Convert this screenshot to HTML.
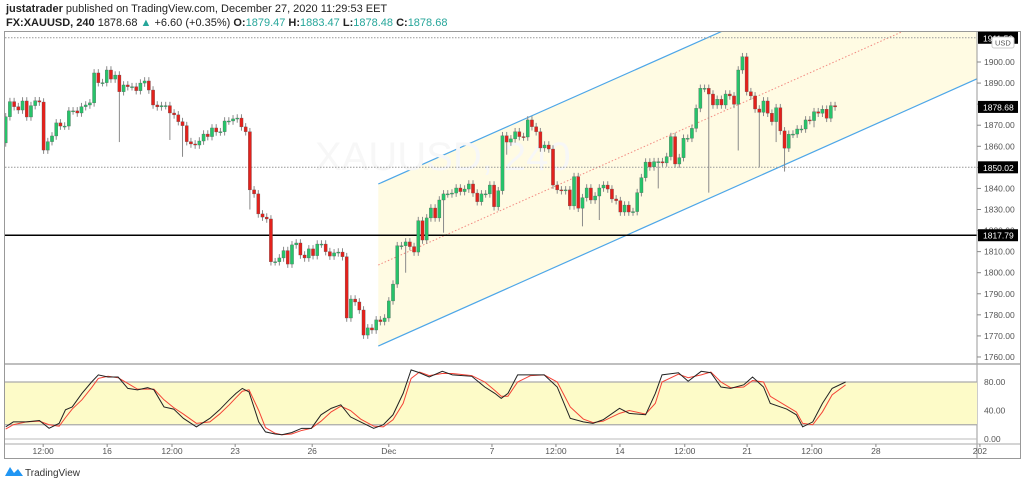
<!DOCTYPE html>
<html><head><meta charset="utf-8">
<style>
html,body{margin:0;padding:0;background:#fff;width:1024px;height:485px;overflow:hidden;font-family:"Liberation Sans",sans-serif}
#hdr{position:absolute;left:6px;top:2px;font-size:11px;color:#222;line-height:14px}
#hdr b{font-weight:bold}
.t{color:#26a69a}
svg{position:absolute;left:0;top:0}
</style></head><body>
<div id="hdr">
<div><b>justatrader</b> published on TradingView.com, December 27, 2020 11:29:53 EET</div>
<div><b>FX:XAUUSD, 240</b> 1878.68 <span class="t">▲</span> +6.60 (+0.35%) <b>O:</b><span class="t">1879.47</span> <b>H:</b><span class="t">1883.47</span> <b>L:</b><span class="t">1878.48</span> <b>C:</b><span class="t">1878.68</span></div>
</div>
<svg id="c" width="1024" height="485"></svg>
<script>
const closes=[1874.0,1881.2,1878.8,1877.2,1881.5,1873.9,1879.3,1881.6,1881.0,1858.2,1862.2,1864.9,1871.1,1869.6,1869.6,1876.8,1876.8,1875.8,1878.8,1879.6,1880.6,1894.8,1890.2,1890.2,1896.2,1891.9,1893.8,1885.9,1889.1,1888.3,1888.3,1886.4,1890.0,1891.0,1886.7,1879.6,1878.7,1879.3,1879.3,1875.8,1874.9,1871.7,1869.8,1862.2,1861.1,1860.6,1862.5,1865.8,1864.6,1868.7,1866.8,1866.9,1872.0,1872.0,1873.0,1873.4,1869.2,1866.9,1839.3,1837.4,1827.9,1826.4,1825.5,1805.2,1805.2,1807.0,1810.5,1804.1,1813.2,1814.1,1808.4,1807.0,1811.3,1808.1,1813.6,1813.6,1810.0,1807.9,1809.4,1809.8,1807.6,1778.5,1787.5,1786.1,1782.3,1770.4,1773.8,1772.8,1777.6,
1776.8,1778.5,1786.6,1794.6,1812.8,1812.8,1814.6,1812.4,1809.8,1824.7,1815.5,1826.0,1830.7,1826.0,1834.5,1837.4,1837.4,1837.8,1840.2,1838.5,1839.7,1842.1,1837.8,1833.7,1837.4,1837.4,1841.6,1831.3,1838.9,1865.0,1862.0,1863.5,1866.9,1864.6,1864.4,1872.5,1869.3,1866.9,1859.2,1860.6,1858.7,1841.6,1839.3,1838.9,1839.3,1831.7,1845.6,1830.6,1835.6,1840.2,1834.5,1836.4,1840.2,1841.6,1839.7,1835.0,1834.2,1828.8,1832.1,1828.8,1829.0,1838.0,1845.1,1852.5,1850.2,1852.7,1852.7,1852.1,
1855.1,1864.6,1851.6,1854.6,1863.8,1863.8,1868.5,1878.0,1887.5,1887.5,1884.8,1879.6,1882.3,1879.6,1884.8,1883.9,1879.9,1896.2,1902.5,1885.9,1883.9,1877.7,1876.1,1881.5,1875.7,1871.7,1878.3,1867.3,1859.1,1865.7,1865.8,1868.2,1868.2,1872.5,1872.2,1876.4,1875.7,1877.6,1873.3,1879.3,1878.68];
const firstOpen=1861.6;
const longWickIdx=[27,39,42,58,95,104,119,137,141,155,167,174,179,183,185,192];
const longWickLow=[1862,1863,1855,1830,1800,1819,1856,1822,1825,1840,1838,1858,1850,1862,1848,1869];
const stochIdx=[0,1.8,4.9,8,10.3,12.7,14.2,15.8,18.1,20.4,22,24.3,26.7,29,31.3,33.7,35.2,37.6,39.9,42.2,45.3,48.5,50.8,53.1,54.7,56.2,57.8,60.1,61.7,64,65.6,67.9,70.3,72.6,74.9,77.3,79.6,81.9,84.3,87.4,89.7,92,94.4,96.3,98.3,100.6,103.7,106.1,110.7,113.8,116.2,117.7,119.3,121.6,124.7,127.9,131,134.1,137.2,139.5,141.9,145.8,148.1,152,154.3,155.9,159.8,162.1,165.2,167.5,169.9,172.2,175.3,177.4,180,181.6,185.5,187.8,189.3,191.7,194,196.3,199.5];
const stochK=[17,24,24,26,15,22,41,45,64,80,90,87,87,71,69,72,69,45,42,29,17,29,41,55,64,71,66,24,10,7,6,9,15,15,34,43,48,31,24,15,20,34,64,97,93,87,95,90,88,73,64,57,64,90,90,90,73,29,24,22,27,43,36,34,64,90,93,81,95,93,73,71,76,87,73,50,42,34,17,24,50,71,80];
const stochD=[14,20,24,25,20,18,30,42,55,72,85,88,86,78,70,70,70,55,44,35,22,24,35,48,58,67,69,40,16,8,6,7,12,15,25,38,46,40,28,18,17,27,50,85,94,89,92,92,89,80,68,60,60,80,89,90,80,45,28,23,25,36,40,35,50,80,91,86,90,94,80,72,73,82,80,60,46,38,22,20,38,62,76];
const priceTicks=[1900,1890,1880,1870,1860,1850,1840,1830,1820,1810,1800,1790,1780,1770,1760];
const timeLabels=["12:00","16","12:00","23","26","Dec","7","12:00","14","12:00","21","12:00","28","202"];
const timeIdx=[8.9,24.1,39.5,54.5,72.8,91,115.5,130.7,145.9,161.3,176.1,191.5,206.7,231.4];
const hLines=[{p:1850.02,kind:"dotted"},{p:1817.79,kind:"solid"},{p:1911.5,kind:"dotted"}];
const channelIdx=[88.5,169.7];
const channelUpper=[1842.1,1914.2];
const channelLower=[1765.2,1837.6];

const NS="http://www.w3.org/2000/svg";
const svg=document.getElementById('c');
const X0=5.7,DX=4.21,PL=5,PR=977,PT=32,PB=362;
const xi=i=>X0+i*DX;
const yp=p=>62+(1900-p)*2.107;
const ys=v=>439-v*0.7125;
function el(tag,a,parent){const e=document.createElementNS(NS,tag);for(const k in a)e.setAttribute(k,a[k]);(parent||svg).appendChild(e);return e;}
const defs=el('defs',{});
const cp=el('clipPath',{id:'mainclip'},defs);el('rect',{x:PL,y:PT,width:PR-PL,height:PB-PT},cp);
const main=el('g',{'clip-path':'url(#mainclip)'});


const slopeU=(yp(channelUpper[1])-yp(channelUpper[0]))/(xi(channelIdx[1])-xi(channelIdx[0]));
const slopeL=(yp(channelLower[1])-yp(channelLower[0]))/(xi(channelIdx[1])-xi(channelIdx[0]));
const cx0=xi(channelIdx[0]),uy0=yp(channelUpper[0]),ly0=yp(channelLower[0]);
const uAt=x=>uy0+slopeU*(x-cx0),lAt=x=>ly0+slopeL*(x-cx0);
const fill=el('polygon',{points:`${cx0},${uy0} ${PR},${uAt(PR)} ${PR},${lAt(PR)} ${cx0},${ly0}`,fill:'#fffbe3'},main);


const mid=el('line',{x1:cx0,y1:(uy0+ly0)/2,x2:PR,y2:(uAt(PR)+lAt(PR))/2,stroke:'#f28b82','stroke-width':1,'stroke-dasharray':'1.5,2'},main);


const up=el('line',{x1:cx0,y1:uy0,x2:PR,y2:uAt(PR),stroke:'#4da6e8','stroke-width':1.2},main);


const lo=el('line',{x1:cx0,y1:ly0,x2:PR,y2:lAt(PR),stroke:'#4da6e8','stroke-width':1.2},main);


const wm=el('text',{x:315,y:170,'font-size':40,fill:'#f7f7f7','font-family':'Liberation Sans'},main);wm.textContent='XAUUSD, 240';


hLines.forEach(h=>{const l=el('line',{x1:PL,x2:PR,y1:yp(h.p),y2:yp(h.p),stroke:h.kind==='solid'?'#000':'#999','stroke-width':h.kind==='solid'?1.5:1,'stroke-dasharray':h.kind==='solid'?'none':'1.5,1.5'},main);

});
let prev=firstOpen;
closes.forEach((c,i)=>{const o=prev;prev=c;const x=xi(i);
 let hi=Math.max(o,c)+1.8,lw=Math.min(o,c)-1.8;const k=longWickIdx.indexOf(i);if(k>=0)lw=Math.min(lw,longWickLow[k]);
 const g=el('g',{},main);
 
 
 el('line',{x1:x,x2:x,y1:yp(hi),y2:yp(lw),stroke:'#8a8a8a','stroke-width':1},g);
 const top=yp(Math.max(o,c)),h=Math.max(1,yp(Math.min(o,c))-top);
 el('rect',{x:x-1.6,y:top,width:3.2,height:h,fill:c>=o?'#27c36a':'#e3211c',stroke:'#555','stroke-width':0.3},g);
});
const fr=el('rect',{x:4.5,y:31.5,width:1016,height:427,fill:'none',stroke:'#999','stroke-width':1});

el('line',{x1:PR,x2:PR,y1:32,y2:458,stroke:'#999'});
el('line',{x1:5,x2:1020,y1:364,y2:364,stroke:'#aaa','stroke-width':1.5});
el('line',{x1:5,x2:1020,y1:444,y2:444,stroke:'#aaa'});
priceTicks.forEach(p=>{const y=yp(p);el('line',{x1:PR,x2:PR+4,y1:y,y2:y,stroke:'#888'});
 const t=el('text',{x:984,y:y+3,'font-size':8.5,fill:'#555'});t.textContent=p.toFixed(2);
 });
const tags=[[1911.5,'1911.50'],[1878.68,'1878.68'],[1850.02,'1850.02'],[1817.79,'1817.79']];
tags.forEach(([p,s])=>{const y=yp(p);const g=el('g',{});
 
 el('rect',{x:978,y:y-6,width:40,height:12,fill:'#000'},g);
 const t=el('text',{x:983,y:y+3.5,'font-size':8.5,fill:'#fff'},g);t.textContent=s;});
const ub=el('rect',{x:992,y:37,width:22,height:11,rx:2,fill:'#fff',stroke:'#ccc'});

const ut=el('text',{x:995,y:45.5,'font-size':7.5,fill:'#555'});ut.textContent='USD';
const band=el('rect',{x:PL,y:ys(80),width:PR-PL,height:ys(20)-ys(80),fill:'#fdfbc8'});

[80,20].forEach(v=>el('line',{x1:PL,x2:PR,y1:ys(v),y2:ys(v),stroke:'#aaa','stroke-width':1.2}));
el('line',{x1:PL,x2:PR,y1:ys(0),y2:ys(0),stroke:'#bbb'});
[[80,'80.00'],[40,'40.00'],[0,'0.00']].forEach(([v,s])=>{const t=el('text',{x:984,y:ys(v)+3,'font-size':8.5,fill:'#555'});t.textContent=s;
 });
const pts=a=>a.map((v,i)=>`${xi(stochIdx[i])},${ys(v)}`).join(' ');
const dl=el('polyline',{points:pts(stochD),fill:'none',stroke:'#f44336','stroke-width':1});

const kl=el('polyline',{points:pts(stochK),fill:'none',stroke:'#222','stroke-width':1});

timeLabels.forEach((s,i)=>{const x=xi(timeIdx[i]);el('line',{x1:x,x2:x,y1:444,y2:447,stroke:'#888'});
 const t=el('text',{x:x,y:454,'font-size':8.5,fill:'#555','text-anchor':'middle'});t.textContent=s;
 });
const lg=el('g',{});
el('path',{d:'M5 476 L10 467 L14 473 L18 469 L23 476 Z',fill:'#2196f3'},lg);
const lt=el('text',{x:25,y:476,'font-size':10,fill:'#333'},lg);lt.textContent='TradingView';
</script>
</body></html>
